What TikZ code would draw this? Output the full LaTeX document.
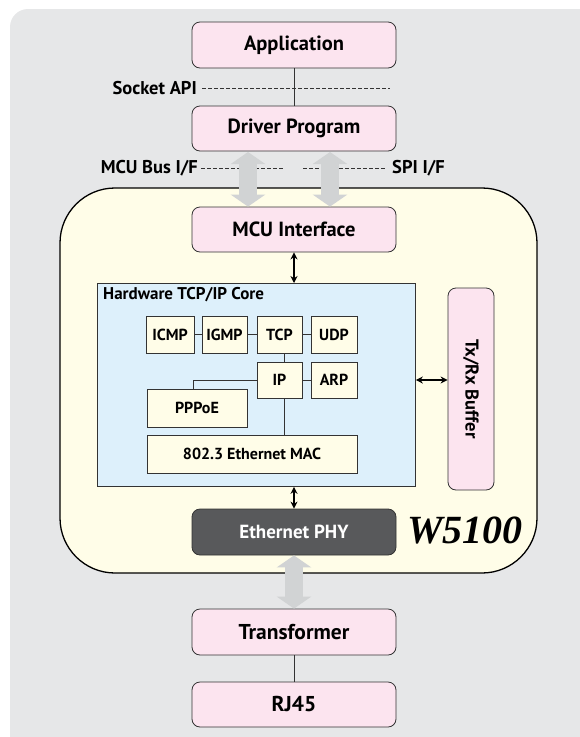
\documentclass[tikz,border=0pt]{standalone}
\usepackage{fontspec}
\setmainfont{PT Sans}
\newfontfamily\serifbi{Liberation Serif}
\usetikzlibrary{arrows.meta}
\definecolor{bggray}{HTML}{E6E7E8}
\definecolor{boxpink}{HTML}{FCE4EF}
\definecolor{chipyellow}{HTML}{FFFDE8}
\definecolor{coreblue}{HTML}{DDF0FB}
\definecolor{phygray}{HTML}{58595B}
\definecolor{arrowgray}{HTML}{D1D3D4}
\definecolor{edgegray}{HTML}{333333}
\begin{document}
\begin{tikzpicture}[x=1pt,y=-1pt,
  pinkbox/.style={draw=edgegray,fill=boxpink,rounded corners=8pt,line width=0.8pt,
    minimum width=204pt,minimum height=46pt,inner sep=0pt,font=\bfseries\fontsize{20.5}{20.5}\selectfont},
  protobox/.style={draw=edgegray,fill=chipyellow,line width=0.8pt,inner sep=0pt,
    font=\bfseries\fontsize{16}{16}\selectfont},
  lbl/.style={font=\bfseries\fontsize{18.5}{18.5}\selectfont,inner sep=0pt},
  dashline/.style={dash pattern=on 4pt off 2pt,line width=0.6pt,edgegray},
  thin/.style={line width=0.7pt,edgegray},
  fatarrow/.style={arrowgray,line width=18pt,
    {Triangle[width=34pt,length=12pt]}-{Triangle[width=34pt,length=12pt]}},
  smallarrow/.style={line width=1.2pt,black,{Stealth[length=7pt,width=7pt]}-{Stealth[length=7pt,width=7pt]}}
]
\useasboundingbox (0,0) rectangle (580,737);
\fill[bggray,rounded corners=18pt] (10,9) rectangle (600,760);

% W5100 chip
\draw[fill=chipyellow,line width=1.3pt,rounded corners=55pt] (60,188) rectangle (537,573);

% top boxes
\node[pinkbox] (app) at (294,45) {Application};
\node[pinkbox,minimum height=45pt] (drv) at (294,128.5) {Driver Program};
\draw[thin] (app.south) -- (drv.north);
\node[lbl,anchor=east] (sock) at (197,88) {Socket API};
\coordinate (sockstart) at (202,88);
\coordinate (sockend) at (390,88);
\draw[dashline] (sockstart) -- (sockend);

% interfaces
\node[lbl,anchor=east] (mcubus) at (198,168) {MCU Bus I/F};
\node[lbl,anchor=west] (spi) at (392,168) {SPI I/F};
\coordinate (busstart) at (201,168);
\coordinate (busend) at (284,168);
\coordinate (spistart) at (303,168);
\coordinate (spiend) at (386,168);
\draw[dashline] (busstart) -- (busend);
\draw[dashline] (spistart) -- (spiend);

\node[pinkbox,minimum height=45pt] (mcu) at (294,229.5) {MCU Interface};

\coordinate (a1t) at (248,152);
\coordinate (a2t) at (330,152);
\draw[fatarrow] (a1t) -- (a1t |- mcu.north);
\draw[fatarrow] (a2t) -- (a2t |- mcu.north);

% core
\node[draw=edgegray,fill=coreblue,line width=0.8pt,minimum width=318pt,minimum height=203pt,inner sep=0pt,anchor=north west] (core) at (97,283) {};
\node[anchor=west,inner sep=0pt,font=\bfseries\fontsize{17}{17}\selectfont] (corelbl) at (103,295) {Hardware TCP/IP Core};

\draw[smallarrow] (mcu.south) -- (core.north -| mcu.south);

\node[protobox,minimum width=48pt,minimum height=37pt] (icmp) at (170,334.5) {ICMP};
\node[protobox,minimum width=45pt,minimum height=37pt] (igmp) at (224.5,334.5) {IGMP};
\node[protobox,minimum width=45pt,minimum height=37pt] (tcp) at (279.5,334.5) {TCP};
\node[protobox,minimum width=46pt,minimum height=37pt] (udp) at (334,334.5) {UDP};
\node[protobox,minimum width=45pt,minimum height=36pt] (ip) at (279.5,380) {IP};
\node[protobox,minimum width=46pt,minimum height=36pt] (arp) at (334,380) {ARP};
\node[protobox,minimum width=100pt,minimum height=38pt] (pppoe) at (197,408) {PPPoE};
\node[protobox,minimum width=210pt,minimum height=38pt] (mac) at (252,454) {802.3 Ethernet MAC};

\draw[thin] (icmp) -- (igmp);
\draw[thin] (igmp) -- (tcp);
\draw[thin] (tcp) -- (udp);
\draw[thin] (ip) -- (arp);
\draw[thin] (tcp.south -| 284,0) -- (ip.north -| 284,0);
\draw[thin] (ip.south -| 284,0) -- (mac.north -| 284,0);
\draw[thin] (ip.west) -| (pppoe.north -| 193,0);

% buffer
\node[draw=edgegray,fill=boxpink,rounded corners=8pt,line width=0.8pt,minimum width=46pt,minimum height=202pt,inner sep=0pt] (buf) at (471,389) {};
\node[rotate=-90,inner sep=0pt,font=\bfseries\fontsize{18.5}{18.5}\selectfont] (buflbl) at (buf.center) {Tx/Rx Buffer};
\draw[smallarrow] (core.east |- ip.east) -- (buf.west |- ip.east);

% PHY
\node[draw=edgegray,fill=phygray,rounded corners=8pt,line width=0.8pt,minimum width=204pt,minimum height=46pt,inner sep=0pt,text=white,font=\bfseries\fontsize{19}{19}\selectfont] (phy) at (294,532) {Ethernet PHY};
\draw[smallarrow] (core.south -| phy.north) -- (phy.north);

\node[inner sep=0pt,font=\serifbi\bfseries\itshape\fontsize{40}{40}\selectfont] (chip) at (465,530) {W5100};

% bottom
\node[pinkbox,minimum height=46pt,font=\bfseries\fontsize{21.5}{21.5}\selectfont] (trf) at (294,632) {Transformer};
\node[pinkbox,minimum height=45pt,font=\bfseries\fontsize{21.5}{21.5}\selectfont] (rj) at (294,704.5) {RJ45};
\draw[thin] (trf.south) -- (rj.north);
\draw[fatarrow] (phy.south) -- (trf.north);
\end{tikzpicture}
\end{document}
